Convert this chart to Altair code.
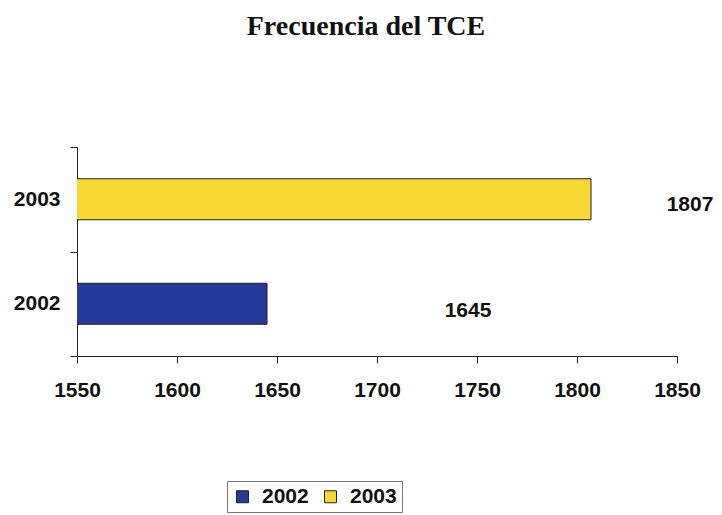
import altair as alt
import pandas as pd

years = ["2002", "2003"]
values = [1645, 1807]
colors = ["#25399B", "#F6D734"]
x_ticks = [1550, 1600, 1650, 1700, 1750, 1800, 1850]

df = pd.DataFrame({"year": years, "value": values})

FONT = "Liberation Sans"

base = alt.Chart(df)

bars = base.mark_bar(stroke="#222222", strokeWidth=1, clip=True, size=41).encode(
    y=alt.Y(
        "year:N",
        sort=["2003", "2002"],
        title=None,
        scale=alt.Scale(paddingInner=0, paddingOuter=0),
        axis=alt.Axis(
            tickBand="extent",
            tickSize=7,
            labelPadding=10,
            labelFont=FONT,
            labelFontSize=21,
            labelFontWeight="bold",
            labelColor="#111111",
            domainColor="#222222",
            tickColor="#222222",
            labelAngle=0,
        ),
    ),
    x=alt.X(
        "value:Q",
        title=None,
        scale=alt.Scale(domain=[1550, 1850], nice=False, zero=False),
        axis=alt.Axis(
            values=x_ticks,
            grid=False,
            tickSize=7,
            labelPadding=16,
            labelFlush=False,
            labelFont=FONT,
            labelFontSize=21,
            labelFontWeight="bold",
            labelColor="#111111",
            domainColor="#222222",
            tickColor="#222222",
            format="d",
        ),
    ),
    color=alt.Color(
        "year:N",
        scale=alt.Scale(domain=years, range=colors),
        legend=alt.Legend(
            title=None,
            orient="none",
            legendX=150,
            legendY=334,
            direction="horizontal",
            symbolType="square",
            symbolSize=144,
            symbolStrokeColor="#222222",
            symbolStrokeWidth=1,
            labelFont=FONT,
            labelFontSize=21,
            labelFontWeight="bold",
            labelColor="#111111",
            labelOffset=9,
            columnPadding=11,
            padding=5,
            strokeColor="#777777",
            fillColor="white",
        ),
    ),
)

def label_layer(yr, dx, dy):
    return base.transform_filter(alt.datum.year == yr).mark_text(
        font=FONT, fontSize=21, fontWeight="bold", color="#111111",
        align="center", baseline="middle", dx=dx, dy=dy,
    ).encode(
        y=alt.Y("year:N", sort=["2003", "2002"]),
        x=alt.X("value:Q"),
        text=alt.Text("value:Q", format="d"),
    )

labels = label_layer("2002", 201, 7) + label_layer("2003", 99, 6)

chart = (
    alt.layer(bars, labels)
    .properties(
        width=600,
        height=209,
        background="white",
        autosize=alt.AutoSizeParams(type="none"),
        padding={"left": 69, "top": 139, "right": 37, "bottom": 160},
        title=alt.TitleParams(
            "Frecuencia del TCE",
            font="Liberation Serif",
            fontSize=28,
            fontWeight="bold",
            color="#111111",
            offset=95,
            dx=-11,
        ),
    )
    .configure_view(strokeWidth=0)
)

chart.save("out.html", embed_options={"renderer": "svg", "actions": False})
